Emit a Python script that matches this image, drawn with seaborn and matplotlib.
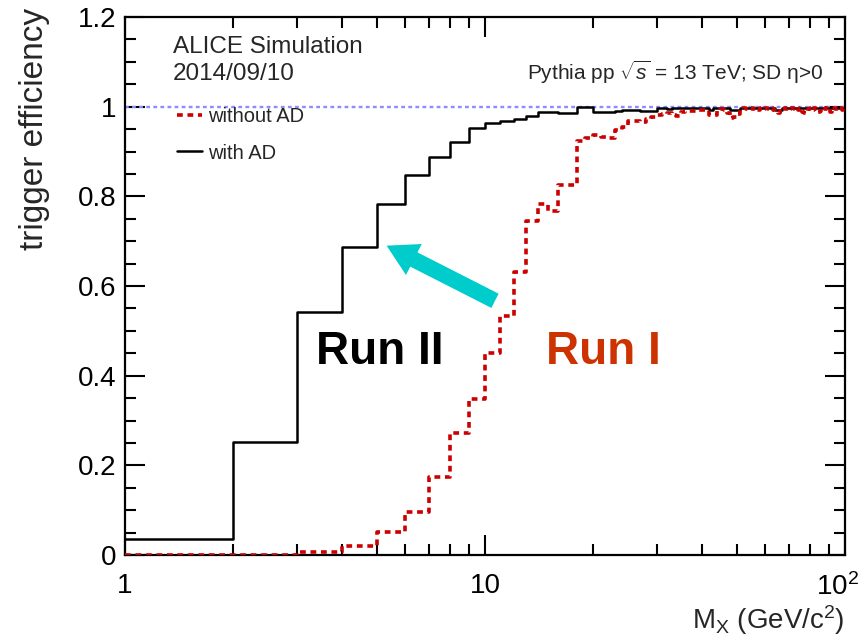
import numpy as np
import pandas as pd
import matplotlib
matplotlib.use("Agg")
import matplotlib.pyplot as plt
import matplotlib.transforms as mtransforms
import seaborn as sns

# ---- data: 1 GeV/c^2 bins from 1 to 100 ----
bin_edges = list(range(1, 101))

eff_without_ad = [
    0.000, 0.000, 0.006, 0.021, 0.051, 0.095, 0.174, 0.272, 0.347, 0.451,
    0.534, 0.632, 0.744, 0.784, 0.768, 0.826, 0.826, 0.923, 0.930, 0.937,
    0.933, 0.929, 0.948, 0.955, 0.969, 0.967, 0.966, 0.973, 0.978, 0.981,
    0.984, 0.985, 0.981, 0.980, 0.988, 0.990, 0.990, 0.991, 0.993, 0.993,
    0.992, 0.982, 0.981, 0.990, 0.994, 0.993, 0.986, 0.975, 0.978, 0.983,
    0.995, 0.996, 0.994, 0.997, 0.995, 0.996, 0.993, 0.997, 0.995, 0.996,
    0.994, 0.997, 0.993, 0.988, 0.986, 0.990, 0.996, 0.995, 0.997, 0.994,
    0.996, 0.995, 0.997, 0.993, 0.996, 0.988, 0.986, 0.989, 0.994, 0.996,
    0.993, 0.997, 0.995, 0.987, 0.990, 0.996, 0.994, 0.997, 0.995, 0.996,
    0.988, 0.990, 0.996, 0.995, 0.997, 0.994, 0.996, 0.993, 0.996,
]

eff_with_ad = [
    0.035, 0.251, 0.541, 0.688, 0.784, 0.847, 0.888, 0.922, 0.953, 0.963,
    0.969, 0.972, 0.980, 0.987, 0.988, 0.985, 0.986, 0.999, 0.999, 0.989,
    0.988, 0.989, 0.990, 0.993, 0.993, 0.992, 0.990, 0.990, 0.991, 0.996,
    0.996, 0.995, 0.998, 0.997, 0.998, 0.998, 0.997, 0.998, 0.998, 0.997,
    0.998, 0.992, 0.998, 0.998, 0.997, 0.998, 0.997, 0.992, 0.993, 0.992,
    0.998, 0.998, 0.997, 0.998, 0.998, 0.997, 0.998, 0.998, 0.997, 0.998,
    0.998, 0.997, 0.998, 0.992, 0.993, 0.992, 0.998, 0.998, 0.997, 0.998,
    0.998, 0.997, 0.998, 0.998, 0.997, 0.998, 0.998, 0.997, 0.998, 0.998,
    0.997, 0.998, 0.998, 0.997, 0.998, 0.998, 0.997, 0.998, 0.998, 0.997,
    0.998, 0.998, 0.997, 0.998, 0.998, 0.997, 0.998, 0.998, 0.997,
]

series_labels = ["without AD", "with AD"]
x_tick_values = [1, 10, 100]
x_tick_labels = ["1", "10", "$10^{2}$"]
y_tick_values = [0, 0.2, 0.4, 0.6, 0.8, 1.0, 1.2]

# ---- style ----
sns.set_theme(style="ticks")
plt.rcParams["font.family"] = ["Liberation Sans", "DejaVu Sans"]
plt.rcParams["mathtext.fontset"] = "custom"
plt.rcParams["mathtext.rm"] = "Liberation Sans"
plt.rcParams["mathtext.it"] = "Liberation Sans:italic"
plt.rcParams["mathtext.bf"] = "Liberation Sans:bold"

fig = plt.figure(figsize=(8.63, 6.43), dpi=100)
ax = fig.add_axes([125 / 863, 1 - 555 / 643, 720 / 863, 538 / 643])


def step_frame(values, label):
    xs = bin_edges
    ys = list(values) + [values[-1]]
    return pd.DataFrame({"M": xs, "eff": ys, "series": label})


df_red = step_frame(eff_without_ad, series_labels[0])
df_black = step_frame(eff_with_ad, series_labels[1])

# reference line at 1
ax.axhline(1.0, color="#8c8cff", lw=1.7, ls=(0, (1.6, 1.4)), zorder=1)

sns.lineplot(data=df_black, x="M", y="eff", ax=ax, color="black", lw=1.8,
             drawstyle="steps-post", sort=False, estimator=None,
             label=series_labels[1], zorder=3, legend=False)
sns.lineplot(data=df_red, x="M", y="eff", ax=ax, color="#cc0000", lw=2.6,
             drawstyle="steps-post", sort=False, estimator=None,
             label=series_labels[0], zorder=4, legend=False)
line_black = ax.lines[1]
line_red = ax.lines[2]
line_red.set_linestyle((0, (1.6, 1.3)))

ax.set_xscale("log")
ax.set_xlim(1, 100)
ax.set_ylim(0, 1.2)

ax.set_xticks(x_tick_values)
ax.set_xticklabels(x_tick_labels)
ax.set_xticks([v * d for d in (1, 10) for v in range(2, 10)], minor=True)
ax.xaxis.set_minor_formatter(matplotlib.ticker.NullFormatter())
ax.set_yticks(y_tick_values)
ax.set_yticklabels([f"{v:g}" for v in y_tick_values])
ax.set_yticks(np.arange(0, 1.2001, 0.05), minor=True)

ax.tick_params(which="both", direction="in", top=True, right=True,
               width=1.5, colors="black", labelsize=20)
ax.tick_params(which="major", length=14.5)
ax.tick_params(which="minor", length=8)
ax.tick_params(axis="x", which="major", pad=13)
ax.tick_params(axis="y", which="major", pad=6)
for s in ax.spines.values():
    s.set_linewidth(1.6)
    s.set_color("black")
    s.set_visible(True)

# shift the 10^2 label slightly left so it stays inside the canvas
last_lbl = ax.get_xticklabels()[-1]
last_lbl.set_transform(last_lbl.get_transform() +
                       mtransforms.ScaledTranslation(-7 / 100, 0, fig.dpi_scale_trans))

ax.set_xlabel("")
ax.set_ylabel("")
ax.text(1.0, -0.121, "M$_{\\mathrm{X}}$ (GeV/c$^{2}$)", transform=ax.transAxes,
        ha="right", va="center", fontsize=20)
ax.text(-0.125, 1.017, "trigger efficiency", transform=ax.transAxes,
        ha="center", va="top", rotation=90, fontsize=24)

ax.text(0.066, 0.944, "ALICE Simulation", transform=ax.transAxes,
        ha="left", va="center", fontsize=17.5)
ax.text(0.066, 0.894, "2014/09/10", transform=ax.transAxes,
        ha="left", va="center", fontsize=17.5)
ax.text(0.969, 0.898, "Pythia pp $\\sqrt{s}$ = 13 TeV; SD η>0",
        transform=ax.transAxes, ha="right", va="center", fontsize=15)

ax.text(0.354, 0.377, "Run II", transform=ax.transAxes, ha="center",
        va="center", fontsize=33, fontweight="bold", color="black")
ax.text(0.664, 0.377, "Run I", transform=ax.transAxes, ha="center",
        va="center", fontsize=33, fontweight="bold", color="#cc3300")

ax.annotate("", xy=(5.33, 0.69), xytext=(10.66, 0.567),
            arrowprops=dict(arrowstyle="simple,head_length=22,head_width=25,tail_width=11.5",
                            color="#00cccc", shrinkA=0, shrinkB=0, lw=0,
                            mutation_scale=1),
            zorder=5)

ax.legend(handles=[line_red, line_black], labels=series_labels,
          loc="upper left", bbox_to_anchor=(0.072, 0.832), frameon=False,
          fontsize=14.5, handlelength=1.25, handletextpad=0.3, labelspacing=0.85,
          borderaxespad=0, borderpad=0)

fig.savefig("out.png", dpi=100)
